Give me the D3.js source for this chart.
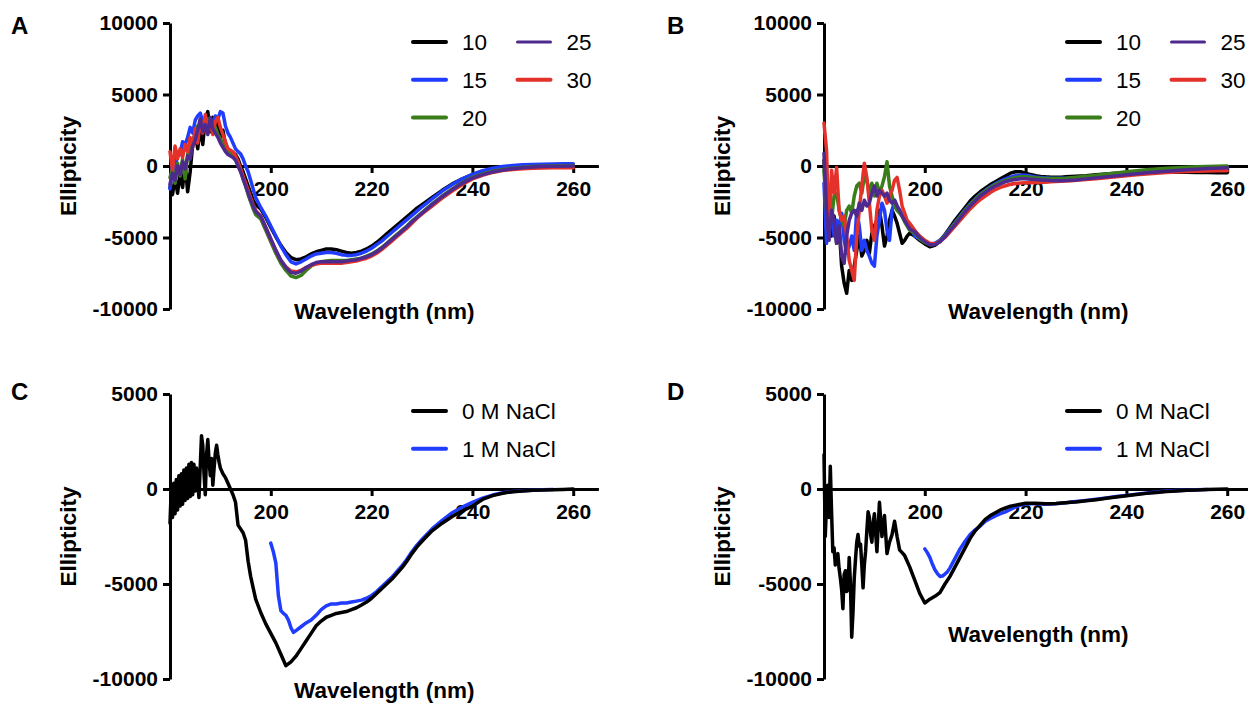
<!DOCTYPE html>
<html>
<head>
<meta charset="utf-8">
<script src="https://cdn.jsdelivr.net/npm/d3@7"></script>
<style>
  body { margin: 0; background: #fff; }
  svg { display: block; }
</style>
</head>
<body>
<svg id="chart" width="1248" height="704"></svg>
<script>
// ---------- wavelength grids (nm) ----------
const wlTemp = [
  180,180.5,181,181.5,182,182.5,183,183.5,184,184.5,185,185.5,186,186.5,187,187.5,188,188.5,189,189.5,
  190,190.5,191,191.5,192,192.5,193,193.5,194,194.5,195,195.5,196,196.5,197,
  198,199,200,201,202,203,204,205,206,207,208,209,210,211,212,213,214,215,216,217,218,219,220,
  221,222,223,224,225,226,227,228,229,230,
  232,234,236,238,240,242,244,246,248,250,252,254,256,258,260
];
const wlSalt = [
  180,180.25,180.5,180.75,181,181.25,181.5,181.75,182,182.25,182.5,182.75,183,183.25,183.5,183.75,
  184,184.25,184.5,184.75,185,185.25,185.5,185.75,186,186.25,186.5,186.75,187,187.25,187.5,187.75,
  188,188.25,188.5,188.75,189,189.25,189.5,189.75,190,
  190.5,191,191.5,192,192.5,193,193.5,194,194.5,195,195.5,196,196.5,197,
  198,199,200,201,202,203,204,205,206,207,208,209,210,211,212,213,214,215,216,217,218,219,220,
  221,222,223,224,225,226,227,228,229,230,
  232,234,236,238,240,242,244,246,248,250,252,254,256,258,260
];
const wlHighSalt = [
  200,200.5,201,201.5,202,202.5,203,203.5,204,204.5,
  205,206,207,208,209,210,211,212,213,214,215,216,217,218,219,220,
  221,222,223,224,225,226,227,228,229,230,
  232,234,236,238,240,242,244,246,248,250,252,254,256
];

// ---------- panel A: ellipticity at 10-30 ----------
const a10 = [
  -1500,-2000,-800,-1900,-500,-1500,200,-1800,-400,1500, 2300,1200,2800,1500,3300,3800,2400,3400,2600,3000,
  2000,2500,1500,1200,1000,900,800,500,0,-400, -900,-1400,-1900,-2400,-2700,
  -3000,-3600,-4300,-4950,-5550,-6050,-6400,-6550,-6500,-6350, -6150,-6000,-5900,-5800,-5800,-5850,-5950,-6050,-6100,-6050,
  -5950,-5800,-5600,-5350,-5050,-4750,-4450,-4150,-3850,-3550, -3250,-2950,-2700,
  -2200,-1700,-1250,-900,-600,-380,-200,-100,-30,0, 30,50,60,70,80
];
const a15 = [
  -1600,300,-500,1000,800,1700,1500,2000,2700,2300, 3200,3500,3700,3100,3400,2900,3200,3000,3500,3300,
  3800,3700,2800,2300,2000,1600,1200,1000,850,500, 0,-400,-1000,-1600,-2200,
  -2900,-3500,-4200,-4900,-5600,-6200,-6700,-6850,-6700,-6500, -6300,-6150,-6100,-6050,-6050,-6100,-6200,-6250,-6250,-6200,
  -6100,-5950,-5750,-5500,-5250,-4950,-4650,-4350,-4050,-3750, -3450,-3150,-2850,
  -2300,-1750,-1300,-900,-580,-330,-150,-40,30,80, 110,130,140,150,150
];
const a20 = [
  -800,-200,-1200,200,-700,500,-900,800,1200,1800, 2200,2800,2600,3100,2700,3300,2900,2500,2700,2200,
  1900,1600,1300,1100,900,800,500,100,-300,-900, -1400,-2000,-2500,-3000,-3400,
  -3700,-4500,-5300,-6100,-6800,-7300,-7700,-7800,-7650,-7300, -7000,-6800,-6700,-6650,-6600,-6600,-6600,-6600,-6550,-6500,
  -6450,-6300,-6150,-5950,-5700,-5400,-5100,-4800,-4500,-4200, -3850,-3550,-3250,
  -2650,-2100,-1600,-1150,-800,-550,-370,-240,-150,-80, -40,-10,10,20,30
];
const a25 = [
  -1300,-500,-1000,0,-600,300,-200,700,500,1400, 1800,2500,3300,2400,2900,2200,3400,2600,2300,2000,
  1600,1300,1000,800,700,600,400,0,-400,-900, -1400,-1900,-2400,-2800,-3200,
  -3500,-4300,-5100,-5900,-6600,-7100,-7450,-7500,-7350,-7100, -6900,-6750,-6700,-6700,-6700,-6700,-6700,-6650,-6600,-6550,
  -6450,-6350,-6200,-6000,-5750,-5450,-5150,-4850,-4550,-4250, -3900,-3600,-3300,
  -2700,-2150,-1650,-1200,-850,-600,-420,-290,-190,-120, -70,-40,-20,-10,0
];
const a30 = [
  1000,-300,1400,500,1200,600,1500,1000,2000,1300, 2600,1600,3200,2300,3600,2500,3000,2200,3100,3400,
  2700,2200,1700,1200,1100,1000,700,300,-200,-700, -1200,-1700,-2200,-2700,-3100,
  -3500,-4300,-5100,-5900,-6600,-7050,-7350,-7400,-7300,-7100, -6950,-6850,-6800,-6800,-6800,-6800,-6800,-6750,-6700,-6650,
  -6550,-6450,-6300,-6100,-5850,-5550,-5250,-4950,-4650,-4350, -4000,-3650,-3350,
  -2800,-2250,-1750,-1300,-900,-650,-450,-320,-240,-190, -160,-140,-130,-130,-130
];

// ---------- panel B: ellipticity at 10-30 ----------
const b10 = [
  400,-3800,-3100,-4900,-3500,-5400,-4200,-7000,-8200,-8900, -7300,-8000,-7000,-5900,-4900,-6300,-5900,-5200,-6100,-4700,
  -4200,-3800,-3100,-4200,-5600,-4900,-3800,-3100,-3500,-4000, -4700,-5400,-5200,-4900,-4700,
  -4900,-5200,-5450,-5650,-5550,-5250,-4800,-4300,-3800,-3350, -2900,-2450,-2100,-1800,-1550,-1300,-1100,-900,-700,-500,
  -400,-400,-500,-600,-680,-730,-760,-780,-790,-780, -760,-740,-720,
  -680,-620,-560,-500,-450,-420,-410,-410,-420,-430, -440,-450,-460,-470,-470
];
const b15 = [
  -1200,-5400,-3800,-3100,-4900,-3800,-4200,-3300,-5200,-6100, -5600,-4900,-5900,-3100,-4200,-5900,-5200,-5900,-6300,-6800,
  -7000,-4900,-3800,-2600,-3100,-4500,-5200,-3100,-2400,-2800, -3100,-3500,-3800,-4000,-4200,
  -4900,-5100,-5300,-5450,-5400,-5200,-4850,-4400,-3950,-3500, -3050,-2650,-2300,-1950,-1700,-1450,-1250,-1050,-900,-780,
  -680,-640,-650,-700,-760,-800,-830,-850,-860,-860, -850,-840,-820,
  -780,-730,-680,-620,-560,-500,-440,-390,-340,-300, -260,-230,-210,-190,-180
];
const b20 = [
  -300,-3100,-1900,-3800,-2100,-1900,-3100,-3800,-4200,-3100, -2800,-3300,-2100,-1400,-1200,-1900,-750,-1000,-1900,-1200,
  -2100,-1200,-1900,-1400,-750,300,-1400,-2100,-2800,-3100, -3300,-3500,-3900,-4200,-4500,
  -4700,-5100,-5350,-5500,-5450,-5250,-4900,-4450,-4000,-3550, -3100,-2700,-2350,-2000,-1750,-1500,-1300,-1150,-1000,-880,
  -800,-760,-760,-790,-820,-850,-870,-880,-880,-870, -850,-820,-790,
  -720,-640,-560,-480,-400,-330,-270,-210,-160,-120, -80,-50,-30,-10,0
];
const b25 = [
  900,-3100,-5200,-3100,-3800,-5400,-4200,-6300,-6800,-4900, -3800,-3300,-3100,-3500,-2600,-3100,-2400,-2800,-2600,-1900,
  -1400,-2100,-1700,-1900,-2100,-1900,-2400,-2600,-2400,-2800, -3100,-3500,-3800,-4100,-4400,
  -4600,-5000,-5300,-5500,-5500,-5300,-4950,-4500,-4100,-3650, -3200,-2800,-2450,-2100,-1850,-1600,-1400,-1250,-1100,-1000,
  -950,-900,-900,-920,-950,-980,-1000,-1020,-1030,-1030, -1020,-1000,-980,
  -900,-830,-760,-690,-620,-550,-480,-420,-360,-310, -260,-220,-180,-150,-120
];
const b30 = [
  3000,1100,-4900,-300,-1900,-100,-3100,-3800,-3500,-4900, -6600,-7300,-8000,-4900,-3100,-1400,200,-800,-2600,-4500,
  -5200,-3100,-2100,-1700,-2100,-2600,-2100,-1700,-1000,-800, -1700,-2800,-3300,-3800,-4000,
  -4500,-4900,-5200,-5400,-5450,-5300,-5000,-4600,-4200,-3800, -3400,-3000,-2650,-2350,-2100,-1850,-1650,-1500,-1380,-1280,
  -1220,-1190,-1180,-1170,-1160,-1150,-1130,-1110,-1090,-1070, -1050,-1030,-1000,
  -950,-890,-830,-760,-690,-620,-560,-510,-460,-420, -390,-370,-350,-340,-330
];

// ---------- panels C and D: 0 M / 1 M NaCl ----------
const c0 = [
  -1800,0,-1500,300,-1300,500,-1100,700,-900,800, -800,1000,-600,1100,-500,1300,-400,1400,-300,1300,
  -100,1100,300,-450,1200,2800,2300,800,-300,1800, 2600,1500,700,1600,200,1100,1900,2300,1800,1400,
  1100,
  800,600,300,0,-300,-700,-1900,-2100,-2300,-2700, -3800,-4600,-5200,-5800,
  -6500,-7100,-7600,-8100,-8700,-9300,-9100,-8800,-8400,-8000, -7600,-7200,-6950,-6750,-6650,-6550,-6500,-6450,-6350,-6250,
  -6100,-5950,-5750,-5500,-5250,-5000,-4750,-4450,-4150,-3800, -3400,-3050,-2750,
  -2200,-1800,-1450,-1150,-900,-550,-350,-220,-140,-100, -70,-50,-40,-20,0
];
const c1 = [
  -2850,-3300,-3900,-5600,-6400,-6550,-6650,-6900,-7300,-7550,
  -7450,-7250,-7050,-6900,-6650,-6350,-6150,-6050,-6050,-6000, -6000,-5950,-5900,-5850,-5750,-5600,
  -5400,-5150,-4900,-4650,-4350,-4050,-3700,-3300,-2950,-2650,
  -2100,-1650,-1250,-950,-700,-480,-320,-200,-130,-90,-60,-40,-30
];
const d0 = [
  1800,-2500,-800,200,-1500,1200,-1200,-3300,-3100,-4000, -3500,-3400,-4200,-4700,-5300,-6300,-4500,-4300,-5400,-5300,
  -3600,-5000,-7800,-6500,-4700,-3700,-2800,-2400,-3000,-2900, -4000,-5200,-4000,-3300,-2200,-1200,-1500,-2400,-2800,-1800,
  -1300,
  -3300,-700,-2500,-1400,-3400,-2800,-2400,-1700,-2500,-3200, -3350,-3500,-3800,-4100,
  -4800,-5500,-6000,-5800,-5650,-5450,-5000,-4600,-4100,-3600, -3100,-2600,-2200,-1900,-1600,-1400,-1250,-1100,-1000,-900,
  -850,-800,-750,-750,-750,-760,-770,-770,-760,-740, -720,-700,-680,
  -620,-560,-490,-420,-350,-290,-230,-180,-130,-100, -70,-50,-30,-10,0
];
const d1 = [
  -3150,-3350,-3600,-3950,-4250,-4450,-4600,-4580,-4480,-4350,
  -4150,-3650,-3150,-2750,-2400,-2150,-1950,-1700,-1550,-1420, -1300,-1200,-1080,-950,-850,-800,
  -780,-780,-790,-800,-790,-770,-750,-720,-690,-660,
  -600,-540,-470,-400,-340,-270,-210,-160,-110,-80,-60,-40,-30
];

// ---------- labels and ticks ----------
const tempLabels = ["10", "15", "20", "25", "30"];
const saltLabels = ["0 M NaCl", "1 M NaCl"];
const xTickValues = [200, 220, 240, 260];
const yTicksTemp = [-10000, -5000, 0, 5000, 10000];
const yTicksSalt = [-10000, -5000, 0, 5000];
const panelLetters = ["A", "B", "C", "D"];

const colors = {
  black: "#000000",
  blue: "#1f3cff",
  green: "#3a7d1a",
  purple: "#4e2a8e",
  red: "#e4322b"
};

const FONT = "'Liberation Sans', Arial, Helvetica, sans-serif";
const svg = d3.select("#chart");

// series bundles; listed bottom-to-top in drawing order
const tempSeries = (s) => [
  { label: tempLabels[0], wl: wlTemp, v: s[0], color: colors.black,  lw: 4, slot: [0, 0] },
  { label: tempLabels[1], wl: wlTemp, v: s[1], color: colors.blue,   lw: 4, slot: [0, 1] },
  { label: tempLabels[2], wl: wlTemp, v: s[2], color: colors.green,  lw: 4, slot: [0, 2] },
  { label: tempLabels[4], wl: wlTemp, v: s[4], color: colors.red,    lw: 4, slot: [1, 1] },
  { label: tempLabels[3], wl: wlTemp, v: s[3], color: colors.purple, lw: 3, slot: [1, 0] }
];
const saltSeries = (s) => [
  { label: saltLabels[1], wl: wlHighSalt, v: s[1], color: colors.blue,  lw: 4, slot: [0, 1] },
  { label: saltLabels[0], wl: wlSalt,     v: s[0], color: colors.black, lw: 4, slot: [0, 0] }
];

const panels = [
  { letter: panelLetters[0], left: 170, top: 23,  bottom: 309, yDomain: [-10000, 10000], yTicks: yTicksTemp,
    series: tempSeries([a10, a15, a20, a25, a30]), legendY: 42, xTitleY: 319, letterX: 11, letterY: 34 },
  { letter: panelLetters[1], left: 824, top: 23,  bottom: 309, yDomain: [-10000, 10000], yTicks: yTicksTemp,
    series: tempSeries([b10, b15, b20, b25, b30]), legendY: 42, xTitleY: 319, letterX: 667, letterY: 34 },
  { letter: panelLetters[2], left: 170, top: 394, bottom: 679, yDomain: [-10000, 5000], yTicks: yTicksSalt,
    series: saltSeries([c0, c1]), legendY: 411, xTitleY: 698, letterX: 11, letterY: 400 },
  { letter: panelLetters[3], left: 824, top: 394, bottom: 679, yDomain: [-10000, 5000], yTicks: yTicksSalt,
    series: saltSeries([d0, d1]), legendY: 411, xTitleY: 642, letterX: 667, letterY: 400 }
];

function styleAxis(sel, size) {
  sel.attr("font-family", FONT).attr("font-size", size).attr("font-weight", "bold");
  sel.selectAll(".domain, .tick line").attr("stroke", "#000").attr("stroke-width", 3);
  sel.selectAll(".tick text").attr("fill", "#000");
}

panels.forEach(p => {
  const g = svg.append("g");
  const x = d3.scaleLinear().domain([180, 265]).range([p.left, p.left + 428.4]);
  const y = d3.scaleLinear().domain(p.yDomain).range([p.bottom, p.top]);

  // axes
  const yAxis = g.append("g")
    .attr("transform", `translate(${p.left},0)`)
    .call(d3.axisLeft(y).tickValues(p.yTicks).tickSize(7).tickSizeOuter(0).tickPadding(5)
      .tickFormat(d => String(d)));
  styleAxis(yAxis, 21);

  const xAxis = g.append("g")
    .attr("transform", `translate(0,${y(0)})`)
    .call(d3.axisBottom(x).tickValues(xTickValues).tickSize(7).tickSizeOuter(0).tickPadding(8)
      .tickFormat(d => String(d)));
  styleAxis(xAxis, 21);

  // curves
  const line = d3.line()
    .defined(d => d[1] != null)
    .x(d => x(d[0]))
    .y(d => y(d[1]));
  p.series.forEach(s => {
    g.append("path")
      .datum(d3.zip(s.wl, s.v))
      .attr("fill", "none")
      .attr("stroke", s.color)
      .attr("stroke-width", 3.5)
      .attr("stroke-linejoin", "round")
      .attr("stroke-linecap", "round")
      .attr("d", line);
  });

  // legend
  const lx = p.left + 243;
  const colGap = 104.5;
  const rowGap = 37.8;
  p.series.forEach(s => {
    const cx = lx + s.slot[0] * colGap;
    const cy = p.legendY + s.slot[1] * rowGap;
    g.append("line")
      .attr("x1", cx).attr("x2", cx + 33)
      .attr("y1", cy).attr("y2", cy)
      .attr("stroke", s.color).attr("stroke-width", s.lw).attr("stroke-linecap", "round");
    g.append("text")
      .attr("x", cx + 49).attr("y", cy + 8)
      .attr("font-family", FONT).attr("font-size", 22.5)
      .attr("fill", "#000")
      .text(s.label);
  });

  // axis titles
  g.append("text")
    .attr("transform", `translate(${p.left - 94},${(p.top + p.bottom) / 2}) rotate(-90)`)
    .attr("text-anchor", "middle")
    .attr("font-family", FONT).attr("font-size", 22.5).attr("font-weight", "bold")
    .text("Ellipticity");
  g.append("text")
    .attr("x", p.left + 214.2).attr("y", p.xTitleY)
    .attr("text-anchor", "middle")
    .attr("font-family", FONT).attr("font-size", 22.5).attr("font-weight", "bold")
    .text("Wavelength (nm)");

  // panel letter
  g.append("text")
    .attr("x", p.letterX).attr("y", p.letterY)
    .attr("font-family", FONT).attr("font-size", 24).attr("font-weight", "bold")
    .text(p.letter);
});
</script>
</body>
</html>
